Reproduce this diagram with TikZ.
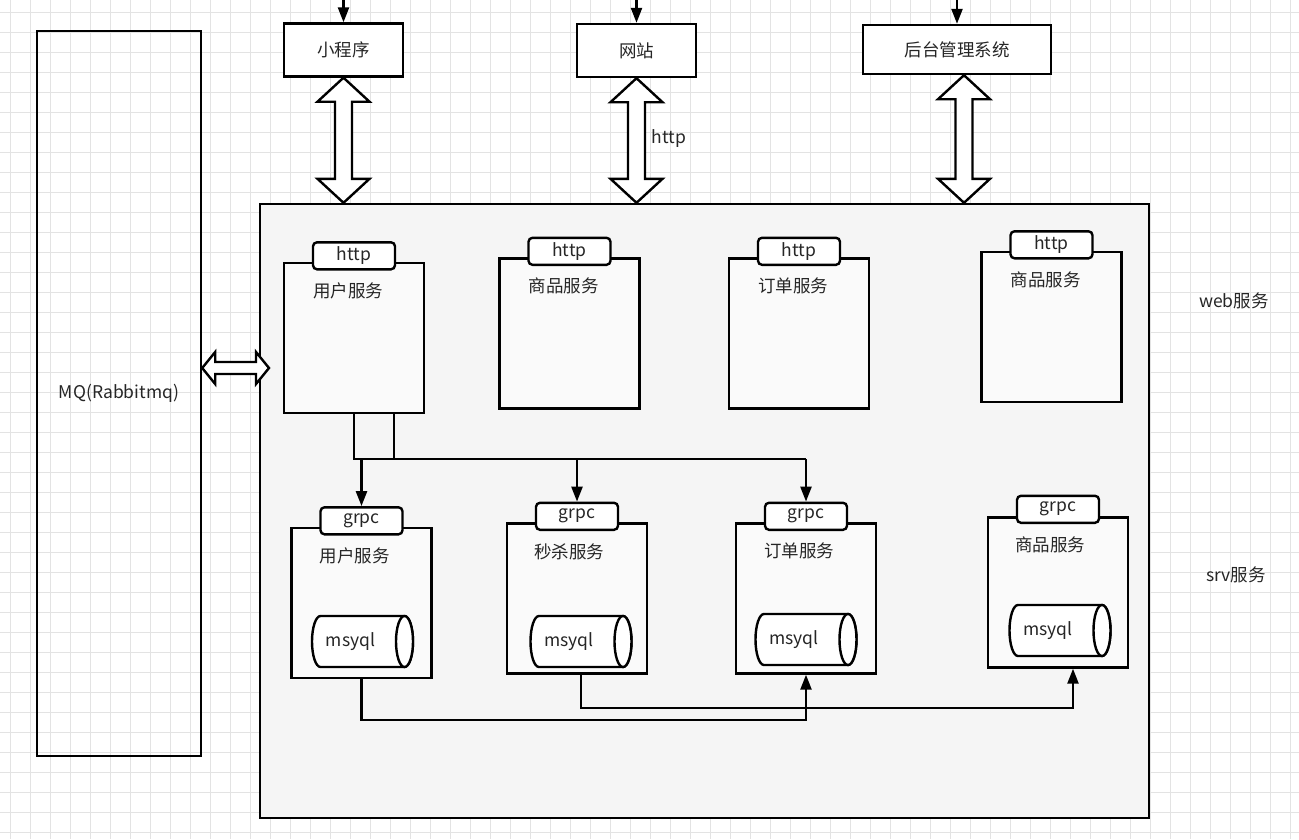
\documentclass[tikz,border=0pt]{standalone}
\usepackage{fontspec}
\setmainfont{Noto Sans CJK SC}
\usetikzlibrary{arrows.meta,calc}

\newcommand{\fatarrow}[2]{%
\draw[fat] let \p1=(#1), \p2=(#2) in (\x1,\y1) -- (\x1+26pt,\y1-24pt) -- (\x1+8.5pt,\y1-24pt) -- (\x1+8.5pt,\y2+24pt) -- (\x1+26pt,\y2+24pt) -- (\x1,\y2) -- (\x1-26pt,\y2+24pt) -- (\x1-8.5pt,\y2+24pt) -- (\x1-8.5pt,\y1-24pt) -- (\x1-26pt,\y1-24pt) -- cycle;}
\newcommand{\fatarrowh}[2]{%
\draw[fat] let \p1=(#1), \p2=(#2) in (\x1,\y1) -- (\x1+13pt,\y1+16pt) -- (\x1+13pt,\y1+6pt) -- (\x2-13pt,\y1+6pt) -- (\x2-13pt,\y1+16pt) -- (\x2,\y1) -- (\x2-13pt,\y1-16pt) -- (\x2-13pt,\y1-6pt) -- (\x1+13pt,\y1-6pt) -- (\x1+13pt,\y1-16pt) -- cycle;}

\tikzset{dbdrum/.pic={
  \draw[dbline] (42,-25.5) -- (-42,-25.5) arc[start angle=270, end angle=90, x radius=8.5, y radius=25.5] -- (42,25.5) arc[start angle=90, end angle=-90, x radius=8.5, y radius=25.5] -- cycle;
  \draw[dbline] (42,0) ellipse[x radius=8.5, y radius=25.5];
  \coordinate (-c) at (0,0);
  \node (-label) at (-12,0) {msyql};
}}

\begin{document}
\begin{tikzpicture}[x=1pt,y=-1pt,
  every node/.style={inner sep=0pt, text=black!85, font=\fontsize{17.5}{20}\selectfont},
  gridline/.style={black!11, line width=0.8pt},
  box/.style={draw, line width=2.4pt, fill=white},
  svc/.style={box, fill=black!2, minimum width=140pt, minimum height=150pt},
  tab/.style={box, rounded corners=4pt, minimum width=82pt, minimum height=27pt},
  dbline/.style={line width=2.4pt, fill=white},
  fat/.style={line width=2.4pt, fill=white, line join=miter},
  link/.style={line width=2.4pt},
  flow/.style={link, -{Triangle[length=15pt,width=11pt]}}]
\useasboundingbox (0,0) rectangle (1299,839);
\clip (0,0) rectangle (1299,839);
\fill[white] (0,0) rectangle (1299,839);
\foreach \gx in {10,30,...,1290} \draw[gridline] (\gx,0) -- (\gx,839);
\foreach \gy in {12,32,...,832} \draw[gridline] (0,\gy) -- (1299,\gy);

\node[box, fill=black!4, minimum width=889pt, minimum height=614pt] (cluster) at (704.5,511) {};
\node[box, fill=none, minimum width=164pt, minimum height=725pt] (mq) at (119,393.5) {MQ(Rabbitmq)};

\node[box, minimum width=119pt, minimum height=53pt] (mini) at (343.5,50) {小程序};
\node[box, minimum width=119pt, minimum height=53pt] (site) at (636.5,50.5) {网站};
\node[box, minimum width=188pt, minimum height=49pt] (admin) at (957,49.5) {后台管理系统};
\draw[flow] (mini.north |- 0,0) -- (mini.north);
\draw[flow] (site.north |- 0,0) -- (site.north);
\draw[flow] (admin.north |- 0,0) -- (admin.north);

\path ([xshift=7pt]admin.south) coordinate (adminout);
\fatarrow{mini.south}{mini.south |- cluster.north}
\fatarrow{site.south}{site.south |- cluster.north}
\fatarrow{adminout}{adminout |- cluster.north}
\node (httplabel) at (669,139) {http};

\coordinate (mqin) at (269,368);
\fatarrowh{mq.east |- mqin}{mqin}

\node[svc] (web1) at (354,338) {};
\node[svc] (web2) at (569.5,333.5) {};
\node[svc] (web3) at (799,333.5) {};
\node[svc] (web4) at (1051.5,327) {};
\node[tab] (webtab1) at ([yshift=6pt]web1.north) {http};
\node[tab] (webtab2) at ([yshift=6pt]web2.north) {http};
\node[tab] (webtab3) at ([yshift=6pt]web3.north) {http};
\node[tab] (webtab4) at ([yshift=6pt]web4.north) {http};
\node (webname1) at ([xshift=-6pt,yshift=-29pt]web1.north) {用户服务};
\node (webname2) at ([xshift=-6pt,yshift=-29pt]web2.north) {商品服务};
\node (webname3) at ([xshift=-6pt,yshift=-29pt]web3.north) {订单服务};
\node (webname4) at ([xshift=-6pt,yshift=-29pt]web4.north) {商品服务};

\node[svc] (srv1) at (361.5,603) {};
\node[svc] (srv2) at (577,598.5) {};
\node[svc] (srv3) at (806,598.5) {};
\node[svc] (srv4) at (1058,592.5) {};
\node[tab] (srvtab1) at ([yshift=6pt]srv1.north) {grpc};
\node[tab] (srvtab2) at ([yshift=6pt]srv2.north) {grpc};
\node[tab] (srvtab3) at ([yshift=6pt]srv3.north) {grpc};
\node[tab] (srvtab4) at ([yshift=7pt]srv4.north) {grpc};
\node (srvname1) at ([xshift=-7pt,yshift=-29pt]srv1.north) {用户服务};
\node (srvname2) at ([xshift=-8pt,yshift=-30pt]srv2.north) {秒杀服务};
\node (srvname3) at ([xshift=-7pt,yshift=-29pt]srv3.north) {订单服务};
\node (srvname4) at ([xshift=-8pt,yshift=-29pt]srv4.north) {商品服务};
\pic (db1) at (362.5,641.5) {dbdrum};
\pic (db2) at (581,641.5) {dbdrum};
\pic (db3) at (806,639.5) {dbdrum};
\pic (db4) at (1060,630.5) {dbdrum};

\path (web1.south) ++(0,45) coordinate (bus);
\draw[link] (web1.south) -- (bus) -- (bus -| srvtab3.north);
\draw[link] ([xshift=40pt]web1.south) -- ([xshift=40pt]bus);
\draw[flow] (bus -| srvtab1.north) -- (srvtab1.north);
\draw[flow] (bus -| srvtab2.north) -- (srvtab2.north);
\draw[flow] (bus -| srvtab3.north) -- (srvtab3.north);

\draw[flow] (srv1.south) -- ++(0,41) -| (srv3.south);
\draw[flow] (srv2.south -| db2-c) -- ++(0,33) -| ([xshift=15pt]srv4.south);

\node (webtier) at (1234,301) {web服务};
\node (srvtier) at (1236,575) {srv服务};
\end{tikzpicture}
\end{document}
